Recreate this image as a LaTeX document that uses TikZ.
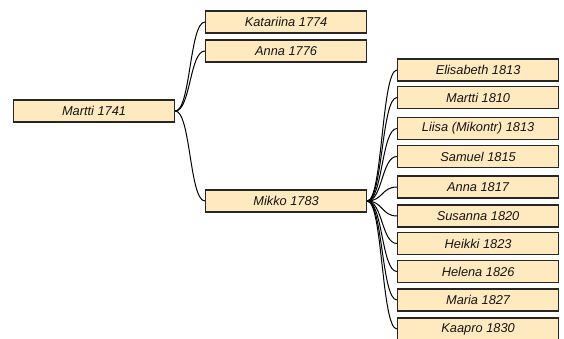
\documentclass[tikz,border=0pt]{standalone}
\usepackage{fontspec}
\setmainfont{Liberation Sans}
\definecolor{boxfill}{HTML}{FFE9BF}
\definecolor{boxline}{HTML}{262626}
\definecolor{txt}{HTML}{141414}
\begin{document}
\begin{tikzpicture}[x=1pt,y=-1pt,
  person/.style={draw=boxline,fill=boxfill,line width=1.2pt,minimum width=161pt,minimum height=22pt,inner sep=0pt,
    font=\fontsize{12.8}{14}\selectfont\itshape,text=txt,anchor=west},
  link/.style={draw=black,line width=1pt}]
\useasboundingbox (0,0) rectangle (564,339);
\node[person] (m1741) at (13,111) {Martti 1741};
\node[person] (k1774) at (205,22) {Katariina 1774};
\node[person] (a1776) at (205,51) {Anna 1776};
\node[person] (m1783) at (205,201) {Mikko 1783};
\node[person] (e1813) at (397,70) {Elisabeth 1813};
\node[person] (m1810) at (397,97.5) {Martti 1810};
\node[person] (l1813) at (397,128.5) {Liisa (Mikontr) 1813};
\node[person] (s1815) at (397,156.5) {Samuel 1815};
\node[person] (a1817) at (397,187) {Anna 1817};
\node[person] (s1820) at (397,216) {Susanna 1820};
\node[person] (h1823) at (397,243.5) {Heikki 1823};
\node[person] (h1826) at (397,271.5) {Helena 1826};
\node[person] (m1827) at (397,300) {Maria 1827};
\node[person] (k1830) at (397,329) {Kaapro 1830};
\foreach \c in {k1774,a1776,m1783}
  \draw[link] (m1741.east) .. controls +(15.5,0) and +(-15.5,0) .. (\c.west);
\foreach \c in {e1813,m1810,l1813,s1815,a1817,s1820,h1823,h1826,m1827,k1830}
  \draw[link] (m1783.east) .. controls +(15.5,0) and +(-15.5,0) .. (\c.west);
\end{tikzpicture}
\end{document}
